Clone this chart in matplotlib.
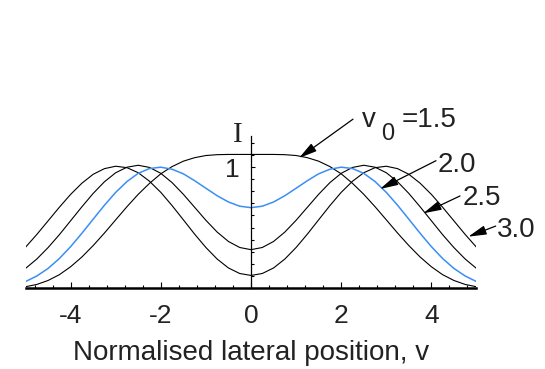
import matplotlib
matplotlib.use('Agg')
import matplotlib.pyplot as plt
from matplotlib.ticker import MultipleLocator

plt.rcParams['font.family'] = ['Liberation Sans', 'DejaVu Sans']

# lateral position v (read at 0.25 steps)
v = [-5.0, -4.75, -4.5, -4.25, -4.0, -3.75, -3.5, -3.25, -3.0, -2.75, -2.5,
     -2.25, -2.0, -1.75, -1.5, -1.25, -1.0, -0.75, -0.5, -0.25, 0.0,
     0.25, 0.5, 0.75, 1.0, 1.25, 1.5, 1.75, 2.0, 2.25, 2.5,
     2.75, 3.0, 3.25, 3.5, 3.75, 4.0, 4.25, 4.5, 4.75, 5.0]

# intensity for each separation v0
I_15 = [0.008, 0.027, 0.060, 0.108, 0.174, 0.255, 0.350, 0.454, 0.564, 0.673, 0.776,
        0.867, 0.946, 1.006, 1.051, 1.080, 1.098, 1.105, 1.107, 1.107, 1.107,
        1.107, 1.107, 1.105, 1.098, 1.080, 1.051, 1.006, 0.946, 0.867, 0.776,
        0.673, 0.564, 0.454, 0.350, 0.255, 0.174, 0.108, 0.060, 0.027, 0.008]
I_20 = [0.051, 0.097, 0.160, 0.242, 0.341, 0.452, 0.569, 0.685, 0.792, 0.882, 0.950,
        0.990, 1.001, 0.984, 0.946, 0.889, 0.826, 0.764, 0.712, 0.677, 0.665,
        0.677, 0.712, 0.764, 0.826, 0.889, 0.946, 0.984, 1.001, 0.990, 0.950,
        0.882, 0.792, 0.685, 0.569, 0.452, 0.341, 0.242, 0.160, 0.097, 0.051]
I_25 = [0.160, 0.238, 0.333, 0.440, 0.556, 0.672, 0.783, 0.880, 0.955, 1.001, 1.017,
        0.999, 0.950, 0.873, 0.776, 0.668, 0.560, 0.462, 0.384, 0.334, 0.316,
        0.334, 0.384, 0.462, 0.560, 0.668, 0.776, 0.873, 0.950, 0.999, 1.017,
        1.001, 0.955, 0.880, 0.783, 0.672, 0.556, 0.440, 0.333, 0.238, 0.160]
I_30 = [0.336, 0.442, 0.555, 0.668, 0.775, 0.868, 0.942, 0.989, 1.009, 0.997, 0.955,
        0.884, 0.792, 0.682, 0.564, 0.445, 0.334, 0.238, 0.164, 0.118, 0.102,
        0.118, 0.164, 0.238, 0.334, 0.445, 0.564, 0.682, 0.792, 0.884, 0.955,
        0.997, 1.009, 0.989, 0.942, 0.868, 0.775, 0.668, 0.555, 0.442, 0.336]

xticks = [-4, -2, 0, 2, 4]
xtick_labels = ['-4', '-2', '0', '2', '4']

fig = plt.figure(figsize=(5.45, 3.69), dpi=100)
ax = fig.add_axes([0.0468, 0.2203, 0.8275, 0.4111])

ax.plot(v, I_30, color='black', lw=0.8)
ax.plot(v, I_25, color='black', lw=0.8)
ax.plot(v, I_15, color='black', lw=0.8)
ax.plot(v, I_20, color='#3a8ef6', lw=1.1)

ax.set_xlim(-5, 5)
ax.set_ylim(0, 1.26)

# Mathematica-like axes crossing at the origin
for s in ['top', 'right']:
    ax.spines[s].set_visible(False)
ax.spines['left'].set_position(('data', 0))
ax.spines['left'].set_linewidth(0.9)
ax.spines['bottom'].set_linewidth(1.8)

ax.set_xticks(xticks)
ax.set_xticklabels(xtick_labels)
ax.xaxis.set_minor_locator(MultipleLocator(0.4))
ax.set_yticks([1])
ax.set_yticklabels(['1'])
ax.yaxis.set_minor_locator(MultipleLocator(0.1))
ax.tick_params(axis='both', which='both', direction='in', width=0.8, labelsize=19,
               labelcolor='#222222')
ax.tick_params(axis='x', which='major', length=4.5, pad=11.5)
ax.tick_params(axis='x', which='minor', length=2.5)
ax.tick_params(axis='y', which='major', length=3, pad=8)
ax.tick_params(axis='y', which='minor', length=2.5)

ax.set_xlabel('Normalised lateral position, v', fontsize=20, labelpad=9,
              color='#222222')
ax.text(-0.29, 1.27, 'I', family=['Liberation Serif', 'DejaVu Serif'], fontsize=21,
        ha='center', va='center', color='#222222')

arrow = dict(arrowstyle='-|>,head_length=1.1,head_width=0.28', color='black',
             lw=0.9, shrinkA=0, shrinkB=0)
ax.annotate('', xy=(1.064, 1.077), xytext=(2.262, 1.400), arrowprops=arrow)
ax.annotate('', xy=(2.860, 0.820), xytext=(4.102, 1.055), arrowprops=arrow)
ax.annotate('', xy=(3.820, 0.618), xytext=(4.634, 0.762), arrowprops=arrow)
ax.annotate('', xy=(4.818, 0.424), xytext=(5.426, 0.512), arrowprops=arrow)

lbl = dict(fontsize=20, ha='left', va='baseline', color='#222222')
ax.text(2.46, 1.335, 'v', **lbl)
ax.text(2.88, 1.227, '0', fontsize=17, ha='left', va='baseline', color='#222222')
ax.text(3.33, 1.335, '=1.5', **lbl)
ax.text(4.146, 0.961, '2.0', **lbl)
ax.text(4.70, 0.687, '2.5', **lbl)
ax.text(5.455, 0.421, '3.0', **lbl)

fig.savefig('out.png', dpi=100)
